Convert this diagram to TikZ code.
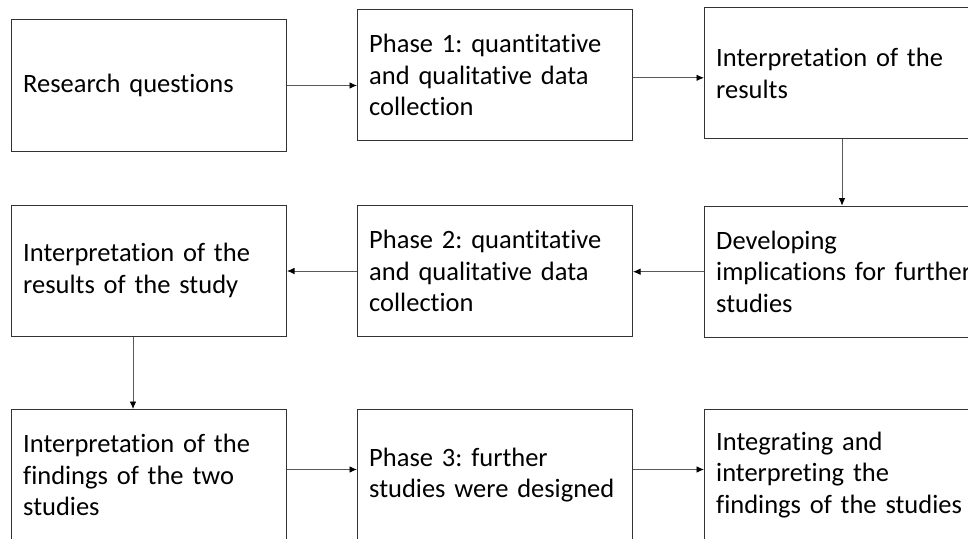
\documentclass[tikz,border=0pt]{standalone}
\usepackage{fontspec}
\setmainfont{Carlito}[Ligatures=NoCommon]
\usetikzlibrary{arrows.meta}
\begin{document}
\frenchspacing
\begin{tikzpicture}[x=1pt,y=-1pt,
  box/.style={draw=black!80, line width=1pt, rectangle, anchor=north west,
    minimum width=275pt, minimum height=131pt, inner xsep=11.7pt, inner ysep=0pt,
    text width=251.6pt, align=left,
    font=\fontsize{26.5}{31.5}\selectfont\frenchspacing},
  flow/.style={draw=black!65, line width=0.9pt, -{Latex[length=7.5pt,width=6.5pt,black]}}]
\path[use as bounding box, fill=white] (0,0) rectangle (968,538);
\clip (0,0) rectangle (968,538);

% first row
\node[box, minimum height=132pt] (b1) at (11,19) {Research questions};
\node[box] (b2) at (357,9.3) {Phase 1: quantitative\\and qualitative data\\collection};
\node[box] (b3) at (704,7.3) {Interpretation of the\\results};

% second row
\node[box] (b6) at (11,204.5) {Interpretation of the\\results of the study};
\node[box] (b5) at (357,205) {Phase 2: quantitative\\and qualitative data\\collection};
\node[box] (b4) at (704,205.7) {Developing\\\mbox{implications for further}\\studies};

% third row
\node[box] (b7) at (11,409) {Interpretation of the\\findings of the two\\studies};
\node[box] (b8) at (357,409) {Phase 3: further\\studies were designed};
\node[box] (b9) at (704,409) {Integrating and\\interpreting the\\findings of the studies};

% connectors
\draw[flow] (b1.east) -- (b1.east -| b2.west);
\draw[flow] ([yshift=-2.5pt]b2.east) -- ([yshift=-2.5pt]b2.east -| b3.west);
\draw[flow] (b3.south) -- (b3.south |- b4.north);
\draw[flow] (b4.west) -- (b4.west -| b5.east);
\draw[flow] (b5.west) -- (b5.west -| b6.east);
\draw[flow] ([xshift=-16pt]b6.south) -- ([xshift=-16pt]b6.south |- b7.north);
\draw[flow] ([yshift=5.5pt]b7.east) -- ([yshift=5.5pt]b7.east -| b8.west);
\draw[flow] ([yshift=5.5pt]b8.east) -- ([yshift=5.5pt]b8.east -| b9.west);
\end{tikzpicture}
\end{document}
